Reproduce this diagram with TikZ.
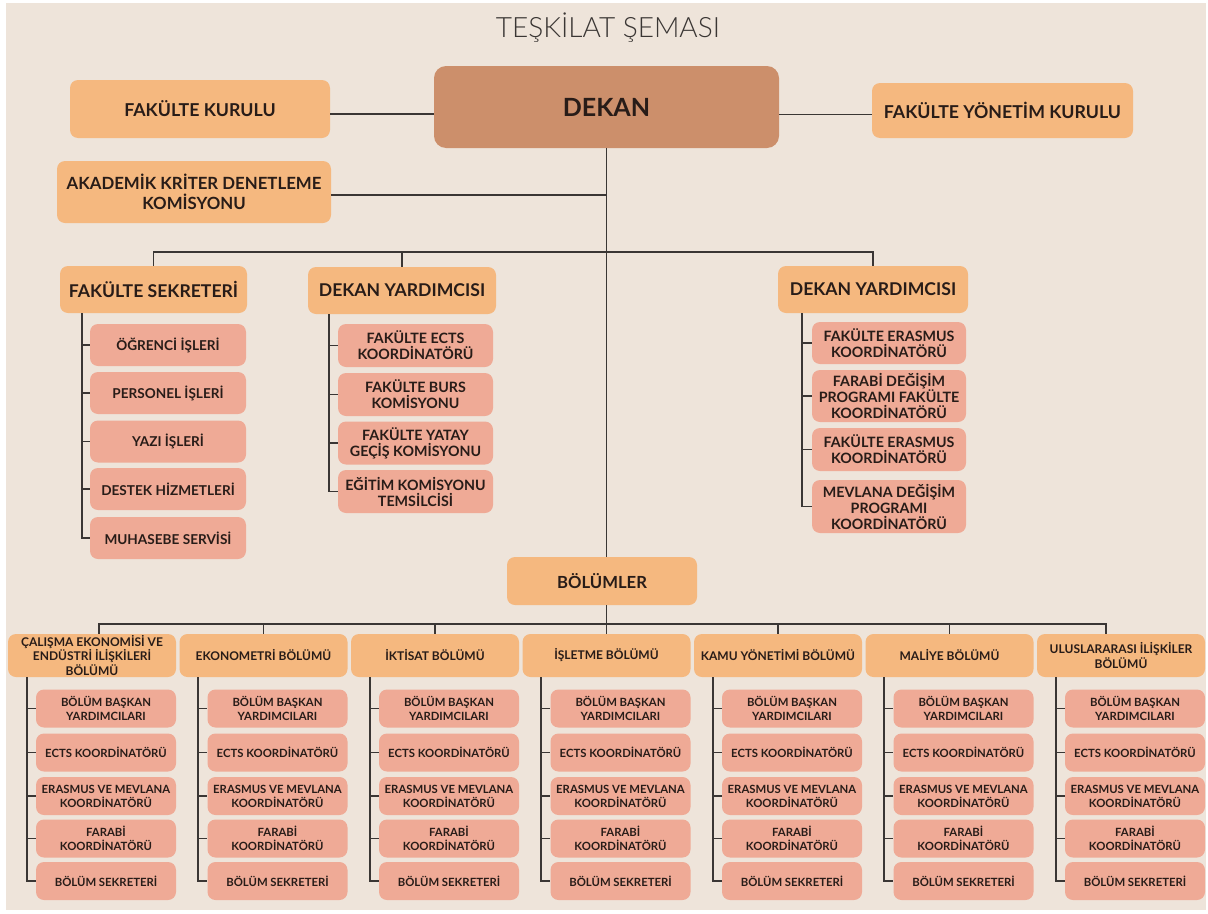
\documentclass[tikz,border=0pt]{standalone}
\usepackage{fontspec}
\setmainfont{Lato}
\newfontfamily\titlefont{Lato Light}
\usepackage{tikz}
\usetikzlibrary{calc}
\definecolor{bgbeige}{RGB}{238,228,218}
\definecolor{orangebox}{RGB}{245,184,127}
\definecolor{dekanfill}{RGB}{204,143,107}
\definecolor{pinkbox}{RGB}{239,170,150}
\definecolor{inkbrown}{RGB}{40,28,24}
\definecolor{linegray}{RGB}{58,54,52}

\begin{document}
\begin{tikzpicture}[x=0.75pt,y=0.75pt,yscale=-1,xscale=1,
  sz/.style 2 args={minimum width=#1*0.75pt,minimum height=#2*0.75pt},
  box/.style={rounded corners=6pt,inner sep=0pt,align=center,text=inkbrown},
  headbox/.style={box,fill=orangebox},
  itembox/.style={box,fill=pinkbox},
  link/.style={draw=linegray,line width=1.2pt},
  bigfont/.style={font=\bfseries\fontsize{13.3pt}{15pt}\selectfont},
  midfont/.style={font=\bfseries\fontsize{13.2pt}{15pt}\selectfont},
  subfont/.style={font=\bfseries\fontsize{10.2pt}{12pt}\selectfont},
  dyfont/.style={font=\bfseries\fontsize{10.7pt}{12pt}\selectfont},
  deptfont/.style={font=\bfseries\fontsize{9pt}{11.2pt}\selectfont},
  dsubfont/.style={font=\bfseries\fontsize{8.5pt}{10.5pt}\selectfont}]

%background
\useasboundingbox (0,0) rectangle (1208,914);
\fill [white] (0,0) rectangle (1208,914);
\fill [bgbeige] (6,3) rectangle (1206,910);

% Text Node
\draw (608,37) node [anchor=base,text=linegray,font=\titlefont\fontsize{21pt}{24pt}\selectfont] (title) {TEŞKİLAT ŞEMASI};

% Top boxes
\draw (606.5,107) node [box,fill=dekanfill,sz={345}{82},rounded corners=9pt,font=\bfseries\fontsize{18.8pt}{21pt}\selectfont] (dekan) {DEKAN};
\draw (200,109) node [headbox,sz={260}{58},bigfont] (fk) {FAKÜLTE KURULU};
\draw (1002.5,110.5) node [headbox,sz={261}{55},bigfont] (fyk) {FAKÜLTE YÖNETİM KURULU};
\draw (194,192) node [headbox,sz={274}{62},font=\bfseries\fontsize{12.6pt}{15pt}\selectfont] (akd) {AKADEMİK KRİTER DENETLEME\\KOMİSYONU};

% Second level
\draw (153.5,289.5) node [headbox,sz={187}{47},midfont] (fs) {FAKÜLTE SEKRETERİ};
\draw (402,290.5) node [headbox,sz={188}{47},midfont] (dy1) {DEKAN YARDIMCISI};
\draw (873,289.5) node [headbox,sz={190}{47},midfont] (dy2) {DEKAN YARDIMCISI};
\draw (602,581) node [headbox,sz={190}{48},font=\bfseries\fontsize{12.5pt}{15pt}\selectfont] (bolumler) {BÖLÜMLER};

% Fakulte sekreteri items
\foreach \n/\y/\t in {1/345/ÖĞRENCİ İŞLERİ,2/393/PERSONEL İŞLERİ,3/441.5/YAZI İŞLERİ,4/489/DESTEK HİZMETLERİ,5/538/MUHASEBE SERVİSİ}
  \draw (168,\y) node [itembox,sz={156}{42},subfont] (fs\n) {\t};

% Dekan yardimcisi items
\foreach \n/\y/\t in {1/345.5/FAKÜLTE ECTS\\KOORDİNATÖRÜ,2/394.5/FAKÜLTE BURS\\KOMİSYONU,3/443/FAKÜLTE YATAY\\GEÇİŞ KOMİSYONU,4/491.5/EĞİTİM KOMİSYONU\\TEMSİLCİSİ}
  \draw (415.5,\y) node [itembox,sz={155}{43},dyfont] (dya\n) {\t};
\foreach \n/\y/\h/\t in {1/343/42/FAKÜLTE ERASMUS\\KOORDİNATÖRÜ,2/396/52/FARABİ DEĞİŞİM\\PROGRAMI FAKÜLTE\\KOORDİNATÖRÜ,3/449.5/43/FAKÜLTE ERASMUS\\KOORDİNATÖRÜ,4/506.5/53/MEVLANA DEĞİŞİM\\PROGRAMI\\KOORDİNATÖRÜ}
  \draw (889,\y) node [itembox,sz={154}{\h},dyfont] (dyb\n) {\t};

% Departments
\foreach \k/\name in {1/{ÇALIŞMA EKONOMİSİ VE\\ENDÜSTRİ İLİŞKİLERİ\\BÖLÜMÜ},2/EKONOMETRİ BÖLÜMÜ,3/İKTİSAT BÖLÜMÜ,4/İŞLETME BÖLÜMÜ,5/KAMU YÖNETİMİ BÖLÜMÜ,6/MALİYE BÖLÜMÜ,7/{ULUSLARARASI İLİŞKİLER\\BÖLÜMÜ}}
  \draw ({92+171.5*(\k-1)},655.5) node [headbox,sz={168}{43},deptfont] (d\k) {\name};

% Department items and their brackets
\foreach \k in {1,...,7}{
  \foreach \r/\y/\t in {1/708.5/BÖLÜM BAŞKAN\\YARDIMCILARI,2/752.5/ECTS KOORDİNATÖRÜ,3/796/ERASMUS VE MEVLANA\\KOORDİNATÖRÜ,4/838.5/FARABİ\\KOORDİNATÖRÜ,5/881/BÖLÜM SEKRETERİ}
    \draw ({106+171.5*(\k-1)},\y) node [itembox,sz={140}{38},dsubfont] (d\k-\r) {\t};
  \coordinate (bar\k) at ($(d\k-1.west)+(-9,0)$);
  \draw [link] (d\k.south -| bar\k) -- (bar\k |- d\k-5.west) -- (d\k-5.west);
  \foreach \r in {1,...,4}
    \draw [link] (bar\k |- d\k-\r.west) -- (d\k-\r.west);
}

%Straight Lines
\draw [link] ($(fk.east)+(0,5)$) -- ($(fk.east -| dekan.west)+(0,5)$);
\draw [link] ($(fyk.west -| dekan.east)+(0,4)$) -- ($(fyk.west)+(0,4)$);
\draw [link] ($(akd.east)+(0,3)$) -- ($(akd.east -| dekan.south)+(0,3)$);
\draw [link] (dekan.south) -- (dekan.south |- bolumler.north);

% upper bus
\coordinate (upbus) at (0,252);
\draw [link] (fs.north) -- (fs.north |- upbus) -- (dy2.north |- upbus) -- (dy2.north);
\draw [link] (dy1.north) -- (dy1.north |- upbus);

\coordinate (fsbar) at ($(fs1.west)+(-8,0)$);
\draw [link] (fs.south -| fsbar) -- (fsbar |- fs5.west) -- (fs5.west);
\foreach \n in {1,...,4}
  \draw [link] (fsbar |- fs\n.west) -- (fs\n.west);

\coordinate (dyabar) at ($(dya1.west)+(-9,0)$);
\draw [link] (dy1.south -| dyabar) -- (dyabar |- dya4.west) -- (dya4.west);
\foreach \n in {1,...,3}
  \draw [link] (dyabar |- dya\n.west) -- (dya\n.west);

\coordinate (dybbar) at ($(dyb1.west)+(-10,0)$);
\draw [link] (dy2.south -| dybbar) -- (dybbar |- dyb4.west) -- (dyb4.west);
\foreach \n in {1,...,3}
  \draw [link] (dybbar |- dyb\n.west) -- (dyb\n.west);

% lower bus
\coordinate (lowbus) at (0,624);
\draw [link] (dekan.south |- bolumler.south) -- (dekan.south |- lowbus);
\draw [link] ($(d1.north)+(7,0)$) -- ($(d1.north |- lowbus)+(7,0)$) -- ($(d7.north |- lowbus)+(-15,0)$) -- ($(d7.north)+(-15,0)$);
\foreach \k in {2,...,6}
  \draw [link] (d\k.north) -- (d\k.north |- lowbus);

\end{tikzpicture}
\end{document}
